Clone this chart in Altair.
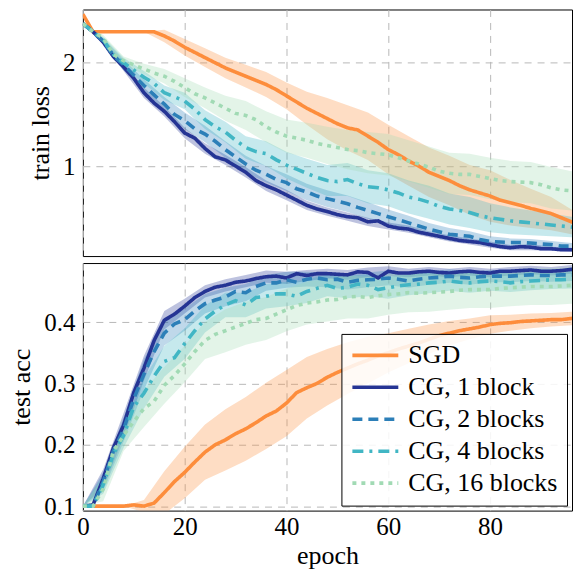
import altair as alt
import pandas as pd

EPOCHS = list(range(0, 100, 2))
BAND_EPOCHS = list(range(0, 100, 4)) + [98]

SERIES = ["SGD", "CG, 1 block", "CG, 2 blocks", "CG, 4 blocks", "CG, 16 blocks"]
COLORS = ["#fd8d3c", "#253494", "#2c7fb8", "#41b6c4", "#a1dab4"]
DASHES = [[1, 0], [1, 0], [10, 6], [11, 6, 3, 6], [4, 5]]

# train loss, mean per epoch (every 2 epochs)
LOSS_SGD = [2.47, 2.30, 2.30, 2.30, 2.30, 2.30, 2.30, 2.30, 2.26, 2.21,
            2.15, 2.10, 2.05, 2.00, 1.95, 1.91, 1.87, 1.83, 1.79, 1.74,
            1.68, 1.62, 1.56, 1.51, 1.46, 1.41, 1.37, 1.35, 1.29, 1.23,
            1.16, 1.11, 1.05, 1.00, 0.94, 0.90, 0.86, 0.81, 0.77, 0.74,
            0.71, 0.67, 0.645, 0.62, 0.59, 0.565, 0.54, 0.50, 0.46, 0.42]
LOSS_CG1 = [2.38, 2.30, 2.20, 2.06, 1.96, 1.85, 1.71, 1.61, 1.53, 1.43,
            1.32, 1.27, 1.17, 1.09, 1.06, 1.00, 0.94, 0.86, 0.81, 0.77,
            0.72, 0.67, 0.62, 0.585, 0.56, 0.53, 0.51, 0.50, 0.46, 0.47,
            0.42, 0.40, 0.39, 0.36, 0.34, 0.32, 0.30, 0.28, 0.27, 0.26,
            0.24, 0.22, 0.21, 0.22, 0.215, 0.20, 0.20, 0.19, 0.19, 0.185]
LOSS_CG2 = [2.38, 2.30, 2.21, 2.07, 1.98, 1.88, 1.78, 1.69, 1.60, 1.50,
            1.44, 1.36, 1.31, 1.24, 1.16, 1.09, 1.02, 0.96, 0.92, 0.87,
            0.84, 0.78, 0.75, 0.71, 0.685, 0.66, 0.635, 0.60, 0.57, 0.54,
            0.51, 0.48, 0.45, 0.42, 0.39, 0.365, 0.34, 0.33, 0.32, 0.29,
            0.27, 0.265, 0.26, 0.26, 0.255, 0.245, 0.24, 0.225, 0.225, 0.22]
LOSS_CG4 = [2.38, 2.30, 2.22, 2.08, 2.00, 1.93, 1.86, 1.80, 1.71, 1.67,
            1.63, 1.55, 1.45, 1.38, 1.33, 1.25, 1.18, 1.14, 1.12, 1.06,
            1.01, 0.97, 0.93, 0.89, 0.86, 0.85, 0.87, 0.83, 0.80, 0.79,
            0.77, 0.74, 0.70, 0.68, 0.65, 0.61, 0.585, 0.57, 0.55, 0.52,
            0.50, 0.485, 0.47, 0.46, 0.45, 0.44, 0.43, 0.42, 0.41, 0.39]
LOSS_CG16 = [2.38, 2.30, 2.24, 2.08, 2.02, 1.98, 1.94, 1.90, 1.87, 1.82,
             1.76, 1.70, 1.66, 1.61, 1.56, 1.51, 1.49, 1.45, 1.38, 1.33,
             1.29, 1.27, 1.25, 1.22, 1.20, 1.18, 1.16, 1.15, 1.13, 1.12,
             1.11, 1.08, 1.05, 1.02, 0.99, 0.95, 0.93, 0.92, 0.92, 0.90,
             0.88, 0.86, 0.85, 0.845, 0.84, 0.82, 0.79, 0.77, 0.76, 0.75]

# test accuracy, mean per epoch (every 2 epochs)
ACC_SGD = [0.100, 0.100, 0.100, 0.100, 0.100, 0.102, 0.100, 0.105, 0.122, 0.140,
           0.155, 0.172, 0.188, 0.200, 0.208, 0.218, 0.226, 0.236, 0.247, 0.255,
           0.268, 0.285, 0.293, 0.300, 0.310, 0.318, 0.325, 0.332, 0.338, 0.345,
           0.350, 0.356, 0.361, 0.366, 0.372, 0.378, 0.382, 0.386, 0.389, 0.392,
           0.396, 0.398, 0.399, 0.401, 0.402, 0.403, 0.404, 0.404, 0.406, 0.407]
ACC_CG1 = [0.100, 0.102, 0.145, 0.195, 0.232, 0.285, 0.325, 0.370, 0.403, 0.413,
           0.426, 0.440, 0.450, 0.457, 0.460, 0.465, 0.467, 0.471, 0.474, 0.475,
           0.472, 0.479, 0.476, 0.479, 0.479, 0.478, 0.477, 0.482, 0.481, 0.472,
           0.483, 0.480, 0.480, 0.482, 0.483, 0.481, 0.480, 0.482, 0.483, 0.481,
           0.480, 0.483, 0.483, 0.484, 0.485, 0.483, 0.483, 0.484, 0.486, 0.487]
ACC_CG2 = [0.100, 0.100, 0.140, 0.190, 0.225, 0.275, 0.315, 0.352, 0.382, 0.397,
           0.404, 0.418, 0.430, 0.436, 0.441, 0.450, 0.448, 0.458, 0.464, 0.464,
           0.469, 0.465, 0.470, 0.472, 0.469, 0.470, 0.465, 0.468, 0.469, 0.470,
           0.472, 0.470, 0.467, 0.470, 0.472, 0.473, 0.475, 0.473, 0.472, 0.474,
           0.475, 0.475, 0.475, 0.476, 0.477, 0.476, 0.476, 0.477, 0.477, 0.477]
ACC_CG4 = [0.100, 0.100, 0.135, 0.185, 0.215, 0.262, 0.284, 0.312, 0.336, 0.342,
           0.365, 0.386, 0.405, 0.418, 0.428, 0.435, 0.428, 0.440, 0.442, 0.446,
           0.446, 0.442, 0.450, 0.455, 0.460, 0.455, 0.457, 0.462, 0.460, 0.453,
           0.456, 0.459, 0.461, 0.462, 0.464, 0.465, 0.467, 0.465, 0.464, 0.466,
           0.467, 0.466, 0.464, 0.466, 0.467, 0.468, 0.469, 0.469, 0.470, 0.469]
ACC_CG16 = [0.100, 0.100, 0.128, 0.190, 0.215, 0.238, 0.259, 0.271, 0.297, 0.313,
            0.332, 0.352, 0.370, 0.380, 0.386, 0.392, 0.398, 0.404, 0.406, 0.413,
            0.420, 0.427, 0.431, 0.433, 0.436, 0.437, 0.441, 0.442, 0.440, 0.443,
            0.445, 0.446, 0.448, 0.447, 0.448, 0.449, 0.450, 0.452, 0.453, 0.453,
            0.453, 0.455, 0.456, 0.457, 0.458, 0.458, 0.458, 0.459, 0.460, 0.461]

# half-widths of the shaded bands (at BAND_EPOCHS)
LOSS_SPREAD_SGD = [0, 0, 0, 0, 0.06, 0.08, 0.09, 0.10, 0.11, 0.12, 0.13, 0.16, 0.20,
                   0.22, 0.23, 0.24, 0.24, 0.24, 0.24, 0.24, 0.25, 0.22, 0.19, 0.16, 0.12, 0.10]
LOSS_SPREAD_CG1 = [0, 0.02, 0.04, 0.05, 0.05, 0.05, 0.05, 0.05, 0.05, 0.05, 0.05, 0.045, 0.04,
                   0.04, 0.04, 0.035, 0.035, 0.03, 0.03, 0.03, 0.03, 0.025, 0.03, 0.02, 0.02, 0.02]
LOSS_SPREAD_CG2 = [0, 0.03, 0.05, 0.06, 0.07, 0.08, 0.08, 0.08, 0.08, 0.08, 0.08, 0.08, 0.08,
                   0.08, 0.08, 0.07, 0.07, 0.06, 0.06, 0.05, 0.05, 0.04, 0.04, 0.035, 0.03, 0.03]
LOSS_SPREAD_CG4 = [0, 0.03, 0.05, 0.06, 0.07, 0.08, 0.09, 0.10, 0.11, 0.12, 0.13, 0.14, 0.15,
                   0.16, 0.16, 0.16, 0.16, 0.16, 0.15, 0.15, 0.14, 0.13, 0.12, 0.11, 0.10, 0.10]
LOSS_SPREAD_CG16 = [0, 0.03, 0.04, 0.05, 0.07, 0.09, 0.10, 0.12, 0.14, 0.15, 0.16, 0.17, 0.18,
                    0.19, 0.20, 0.20, 0.20, 0.20, 0.20, 0.20, 0.20, 0.20, 0.20, 0.20, 0.19, 0.19]

ACC_SPREAD_SGD = [0, 0, 0, 0.01, 0.035, 0.042, 0.045, 0.05, 0.052, 0.054, 0.054, 0.05, 0.046,
                  0.042, 0.038, 0.032, 0.028, 0.024, 0.02, 0.017, 0.015, 0.013, 0.012, 0.011, 0.011, 0.011]
ACC_SPREAD_CG1 = [0, 0.015, 0.02, 0.02, 0.015, 0.012, 0.01, 0.01, 0.01, 0.01, 0.01, 0.009, 0.008,
                  0.008, 0.008, 0.008, 0.007, 0.007, 0.007, 0.007, 0.007, 0.007, 0.007, 0.007, 0.007, 0.007]
ACC_SPREAD_CG2 = [0, 0.015, 0.02, 0.025, 0.02, 0.018, 0.016, 0.015, 0.014, 0.013, 0.013, 0.012, 0.012,
                  0.012, 0.012, 0.012, 0.011, 0.011, 0.011, 0.011, 0.01, 0.01, 0.01, 0.01, 0.01, 0.01]
ACC_SPREAD_CG4 = [0, 0.015, 0.02, 0.025, 0.025, 0.025, 0.022, 0.02, 0.02, 0.02, 0.02, 0.019, 0.018,
                  0.018, 0.018, 0.018, 0.017, 0.017, 0.016, 0.016, 0.016, 0.015, 0.015, 0.015, 0.015, 0.015]
ACC_SPREAD_CG16 = [0, 0.02, 0.025, 0.03, 0.03, 0.03, 0.03, 0.035, 0.035, 0.035, 0.035, 0.035, 0.035,
                   0.035, 0.034, 0.033, 0.032, 0.031, 0.03, 0.03, 0.03, 0.03, 0.03, 0.03, 0.03, 0.03]

LOSS = [LOSS_SGD, LOSS_CG1, LOSS_CG2, LOSS_CG4, LOSS_CG16]
ACC = [ACC_SGD, ACC_CG1, ACC_CG2, ACC_CG4, ACC_CG16]
LOSS_SPREAD = [LOSS_SPREAD_SGD, LOSS_SPREAD_CG1, LOSS_SPREAD_CG2, LOSS_SPREAD_CG4, LOSS_SPREAD_CG16]
ACC_SPREAD = [ACC_SPREAD_SGD, ACC_SPREAD_CG1, ACC_SPREAD_CG2, ACC_SPREAD_CG4, ACC_SPREAD_CG16]


def lines_df(arrs):
    rows = []
    for s, arr in zip(SERIES, arrs):
        for e, v in zip(EPOCHS, arr):
            rows.append({"epoch": e, "series": s, "value": v})
    return pd.DataFrame(rows)


def bands_df(arrs, spreads):
    rows = []
    for s, arr, sp in zip(SERIES, arrs, spreads):
        for e, w in zip(BAND_EPOCHS, sp):
            m = arr[EPOCHS.index(e)]
            rows.append({"epoch": e, "series": s, "lo": m - w, "hi": m + w})
    return pd.DataFrame(rows)


FONT = "Liberation Serif, DejaVu Serif, serif"
GRID = dict(grid=True, gridDash=[7, 6], gridColor="#b8b8b8", gridWidth=1, ticks=False, domain=False)
W = 490
XDOM = [0, 96.1]

color_scale = alt.Scale(domain=SERIES, range=COLORS)
dash_scale = alt.Scale(domain=SERIES, range=DASHES)

legend = alt.Legend(
    orient="bottom-right", offset=5, title=None,
    symbolType="stroke", symbolSize=2116, symbolStrokeWidth=3.6,
    labelFont=FONT, labelFontSize=26, labelColor="black", labelLimit=300,
    labelOffset=8, padding=9, rowPadding=5, clipHeight=25,
    strokeColor="black", fillColor="rgba(255,255,255,0.85)",
)


def panel(arrs, spreads, ytitle, ydom, yvals, yfmt, height, bottom):
    if bottom:
        xenc = alt.X("epoch:Q", scale=alt.Scale(domain=XDOM, nice=False, zero=False),
                     axis=alt.Axis(values=[0, 20, 40, 60, 80], labelPadding=4, titlePadding=3,
                                   labelFlush=False, labelFontSize=25, titleFontSize=26, **GRID),
                     title="epoch")
    else:
        xenc = alt.X("epoch:Q", scale=alt.Scale(domain=XDOM, nice=False, zero=False),
                     axis=alt.Axis(values=[0, 20, 40, 60, 80], labels=False, **GRID),
                     title=None)
    yscale = alt.Scale(domain=ydom, nice=False, zero=False)
    yaxis = alt.Axis(values=yvals, format=yfmt, labelPadding=8, titlePadding=9,
                     labelFlush=False, labelFontSize=25, titleFontSize=26, **GRID)

    bands = alt.Chart(bands_df(arrs, spreads)).mark_area(opacity=0.3, clip=True).encode(
        x=xenc,
        y=alt.Y("lo:Q", scale=yscale, axis=yaxis, title=ytitle, stack=False),
        y2="hi:Q",
        fill=alt.Fill("series:N", scale=color_scale, legend=None),
    )
    if bottom:
        cenc = alt.Color("series:N", scale=color_scale, legend=legend)
        denc = alt.StrokeDash("series:N", scale=dash_scale, legend=legend)
    else:
        cenc = alt.Color("series:N", scale=color_scale, legend=None)
        denc = alt.StrokeDash("series:N", scale=dash_scale, legend=None)
    lines = alt.Chart(lines_df(arrs)).mark_line(strokeWidth=3.6, clip=True, strokeCap="butt").encode(
        x=xenc,
        y=alt.Y("value:Q", scale=yscale, axis=yaxis, title=ytitle),
        color=cenc,
        strokeDash=denc,
    )
    return alt.layer(bands, lines).properties(width=W, height=height)


top = panel(LOSS, LOSS_SPREAD, "train loss", [0.129, 2.516], [1, 2], "d", 247, False)
bot = panel(ACC, ACC_SPREAD, "test acc", [0.0927, 0.4963], [0.1, 0.2, 0.3, 0.4], ".1f", 248, True)

chart = alt.vconcat(top, bot, spacing=5).resolve_scale(
    color="independent", strokeDash="independent"
).resolve_legend(
    color="independent", strokeDash="independent"
).properties(
    padding={"left": 0, "top": 0, "right": 0, "bottom": 0}
).configure(
    font=FONT
).configure_view(
    stroke="black", strokeWidth=1
).configure_axis(
    labelFont=FONT, labelColor="black",
    titleFont=FONT, titleFontWeight="normal", titleColor="black",
)

chart.save("out.html", embed_options={"renderer": "svg", "actions": False})
